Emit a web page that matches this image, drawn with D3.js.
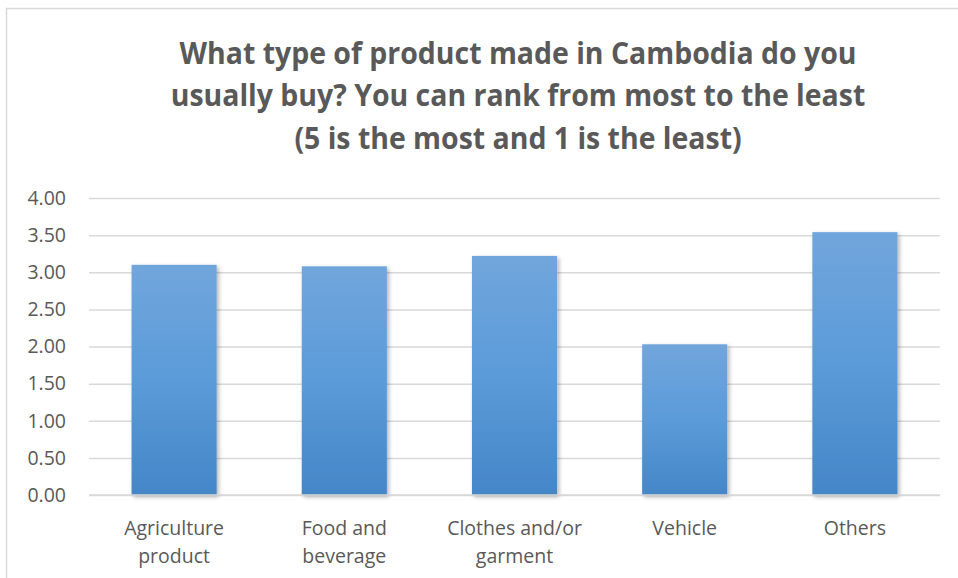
<!DOCTYPE html>
<html>
<head>
<meta charset="utf-8">
<script src="https://cdn.jsdelivr.net/npm/d3@7"></script>
<style>
html,body{margin:0;padding:0;background:#fff;}
svg{display:block;}
</style>
</head>
<body>
<svg id="chart" width="958" height="578"></svg>
<script>
const categories = [["Agriculture","product"],["Food and","beverage"],["Clothes and/or","garment"],["Vehicle"],["Others"]];
const values = [3.10, 3.08, 3.22, 2.03, 3.54];
const yTicks = [0,0.5,1,1.5,2,2.5,3,3.5,4];
const titleLines = ["What type of product made in Cambodia do you","usually buy? You can rank from most to the least","(5 is the most and 1 is the least)"];

const svg = d3.select("#chart");
const W = 958, H = 578;
const margin = {left: 89, right: 18, top: 198, bottom: 83};
const fontFam = "'Open Sans', 'Liberation Sans', Arial, sans-serif";
const labelSize = 19.5;

// chart frame
svg.append("rect").attr("x",6.5).attr("y",8.5).attr("width",1100).attr("height",700)
  .attr("fill","#fff").attr("stroke","#d9d9d9").attr("stroke-width",1.5);

const defs = svg.append("defs");
const grad = defs.append("linearGradient").attr("id","barGrad").attr("x1",0).attr("y1",0).attr("x2",0).attr("y2",1);
grad.append("stop").attr("offset","0%").attr("stop-color","#71a6dc");
grad.append("stop").attr("offset","50%").attr("stop-color","#5b9bd9");
grad.append("stop").attr("offset","100%").attr("stop-color","#4486c7");
const filt = defs.append("filter").attr("id","shadow").attr("x","-20%").attr("y","-10%").attr("width","140%").attr("height","120%");
filt.append("feDropShadow").attr("dx",2).attr("dy",2).attr("stdDeviation",2).attr("flood-color","#000").attr("flood-opacity",0.3);

const x = d3.scaleBand().domain(d3.range(categories.length)).range([margin.left, W - margin.right]).paddingInner(0.5).paddingOuter(0.25);
const y = d3.scaleLinear().domain([0,4]).range([H - margin.bottom, margin.top]);

// gridlines + y tick labels
const yAxis = d3.axisLeft(y).tickValues(yTicks).tickSize(-(W - margin.right - margin.left)).tickFormat(d3.format(".2f")).tickPadding(23);
const gy = svg.append("g").attr("transform",`translate(${margin.left},0)`).call(yAxis);
gy.select(".domain").remove();
gy.selectAll(".tick line").attr("stroke","#d9d9d9").attr("stroke-width",1.5);
gy.selectAll(".tick text").attr("fill","#595959").style("font-family",fontFam).style("font-size",labelSize+"px");

// bars
svg.append("g").selectAll("rect").data(values).join("rect")
  .attr("x",(d,i)=>x(i)).attr("width",x.bandwidth())
  .attr("y",d=>y(d)).attr("height",d=>y(0)-y(d))
  .attr("fill","url(#barGrad)").attr("filter","url(#shadow)");

// baseline axis
svg.append("line").attr("x1",margin.left).attr("x2",W-margin.right).attr("y1",y(0)).attr("y2",y(0))
  .attr("stroke","#d9d9d9").attr("stroke-width",1.5);

// category labels
const gx = svg.append("g");
categories.forEach((lines,i)=>{
  const cx = x(i)+x.bandwidth()/2;
  const t = gx.append("text").attr("x",cx).attr("y",535)
    .attr("text-anchor","middle").attr("fill","#595959")
    .style("font-family",fontFam).style("font-size",labelSize+"px");
  lines.forEach((l,j)=>t.append("tspan").attr("x",cx).attr("dy",j===0?0:28).text(l));
});

// title
const titleG = svg.append("g");
const tBase = [63.5, 106, 148.5];
const targetW = 695;
const fs = 30;
const t2 = titleG.append("text").style("font-family",fontFam).style("font-weight","bold").style("font-size",fs+"px").text(titleLines[1]);
const sx = targetW / t2.node().getComputedTextLength();
t2.remove();
titleLines.forEach((l,i)=>{
  titleG.append("text").attr("transform",`translate(518,${tBase[i]}) scale(${sx},1)`).attr("text-anchor","middle")
    .attr("fill","#595959").style("font-family",fontFam).style("font-weight","bold")
    .style("font-size",fs+"px").text(l);
});
</script>
</body>
</html>
